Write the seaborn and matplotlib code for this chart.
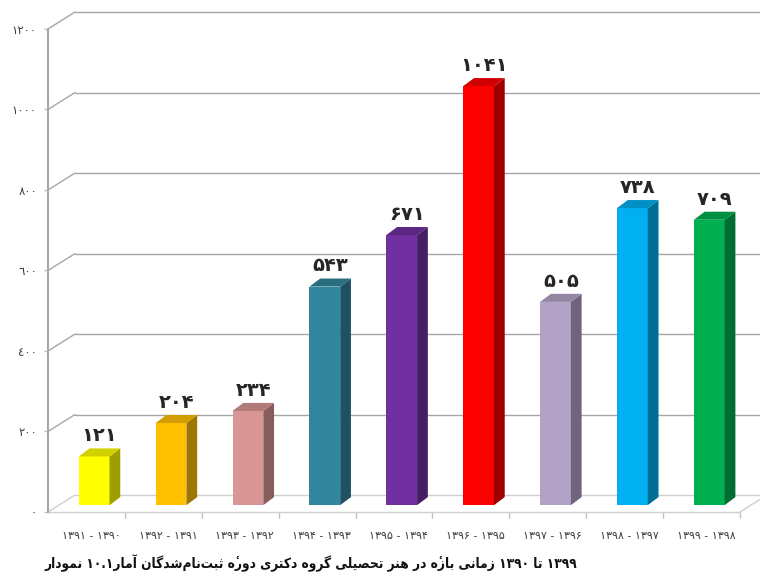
import matplotlib
matplotlib.use("Agg")
import matplotlib.pyplot as plt
from matplotlib.patches import Polygon
from matplotlib.colors import to_rgb
import seaborn as sns

sns.set_theme(style="white")
plt.rcParams['font.family'] = ['DejaVu Sans']

# data
CATEGORIES = ["۱۳۹۱ - ۱۳۹۰", "۱۳۹۲ - ۱۳۹۱", "۱۳۹۳ - ۱۳۹۲", "۱۳۹۴ - ۱۳۹۳", "۱۳۹۵ - ۱۳۹۴",
              "۱۳۹۶ - ۱۳۹۵", "۱۳۹۷ - ۱۳۹۶", "۱۳۹۸ - ۱۳۹۷", "۱۳۹۹ - ۱۳۹۸"]
VALUES = [121, 204, 234, 543, 671, 1041, 505, 738, 709]
COLORS = ["#FFFF00", "#FFC000", "#D99694", "#31859C", "#7030A0",
          "#FF0000", "#B3A2C7", "#00B0F0", "#00B050"]
Y_TICKS = [0, 200, 400, 600, 800, 1000, 1200]
TITLE = "نمودار ۱۰.۱آمار ثبت‌نام‌شدگان دورهٔ دکتری گروه تحصیلی هنر در بازهٔ زمانی ۱۳۹۰ تا ۱۳۹۹"

# 3d look
BX, BY = 0.10, 17      # bar shift to mid depth
DX, DY = 0.14, 20      # bar depth
DXW, DYW = 0.35, 42    # wall depth
XMAX = 8.76
GRID = "#a6a6a6"


def fa(n):
    return str(n).translate(str.maketrans("0123456789", "۰۱۲۳۴۵۶۷۸۹"))


def ar(n):
    return str(n).translate(str.maketrans("0123456789", "٠١٢٣٤٥٦٧٨٩"))


# minimal arabic shaping: (isolated, final[, initial, medial])
FORMS = {
    'ا': ('\ufe8d', '\ufe8e'), 'آ': ('\ufe81', '\ufe82'), 'د': ('\ufea9', '\ufeaa'),
    'ر': ('\ufead', '\ufeae'), 'ز': ('\ufeaf', '\ufeb0'), 'و': ('\ufeed', '\ufeee'),
    'ب': ('\ufe8f', '\ufe90', '\ufe91', '\ufe92'), 'ت': ('\ufe95', '\ufe96', '\ufe97', '\ufe98'),
    'ث': ('\ufe99', '\ufe9a', '\ufe9b', '\ufe9c'), 'ح': ('\ufea1', '\ufea2', '\ufea3', '\ufea4'),
    'ش': ('\ufeb5', '\ufeb6', '\ufeb7', '\ufeb8'), 'ص': ('\ufeb9', '\ufeba', '\ufebb', '\ufebc'),
    'ل': ('\ufedd', '\ufede', '\ufedf', '\ufee0'), 'م': ('\ufee1', '\ufee2', '\ufee3', '\ufee4'),
    'ن': ('\ufee5', '\ufee6', '\ufee7', '\ufee8'), 'ه': ('\ufee9', '\ufeea', '\ufeeb', '\ufeec'),
    'ک': ('\ufb8e', '\ufb8f', '\ufb90', '\ufb91'), 'گ': ('\ufb92', '\ufb93', '\ufb94', '\ufb95'),
    'ی': ('\ufbfc', '\ufbfd', '\ufbfe', '\ufbff'),
}
MARK = '\u0654'  # hamza above


def shape_word(word):
    if not any(c in FORMS for c in word):
        return word
    out = []
    for i, c in enumerate(word):
        if c == MARK and out:
            out[-1] = out[-1] + MARK  # keep mark right after its base
            continue
        if c not in FORMS:
            if c != '\u200c':
                out.append(c)
            continue
        prev = word[i - 1] if i > 0 else None
        nxt = word[i + 1] if i + 1 < len(word) else None
        jp = prev in FORMS and len(FORMS[prev]) == 4
        jn = nxt in FORMS and len(FORMS[c]) == 4
        f = FORMS[c]
        if jp and jn:
            out.append(f[3])
        elif jp:
            out.append(f[1])
        elif jn:
            out.append(f[2])
        else:
            out.append(f[0])
    # digits keep their order, letters are reversed
    head = ''.join(ch for ch in word if ch.isdigit() or ch == '.')
    letters = [ch for ch in out if not (ch.isdigit() or ch == '.')]
    return head + ''.join(reversed(letters))


def shade(c, k):
    r, g, b = to_rgb(c)
    return (r * k, g * k, b * k)


fig = plt.figure(figsize=(7.6, 5.79), dpi=100)
ax = fig.add_axes([48 / 760, 67 / 579, 712 / 760, 512 / 579])

# walls and gridlines
for v in Y_TICKS:
    col = "#d0d0d0" if v == 0 else GRID
    ax.plot([-0.5, -0.5 + DXW], [v, v + DYW], color=col, lw=1, zorder=1)
    ax.plot([-0.5 + DXW, XMAX], [v + DYW, v + DYW], color=col, lw=1, zorder=1)
ax.plot([-0.5, 8.5], [0, 0], color="#d0d0d0", lw=1, zorder=1, clip_on=False)
ax.plot([8.5, 8.5 + DXW], [0, DYW], color="#d0d0d0", lw=1, zorder=1)
ax.plot([-0.5, -0.5], [0, 1200], color=GRID, lw=1.5, zorder=1, clip_on=False)

sns.barplot(x=CATEGORIES, y=VALUES, hue=CATEGORIES, palette=COLORS, order=CATEGORIES,
            hue_order=CATEGORIES, width=0.4, saturation=1, legend=False, ax=ax, zorder=3)

bars = sorted(ax.patches, key=lambda p: p.get_x())
for p, v, c in zip(bars, VALUES, COLORS):
    p.set_x(p.get_x() + BX)
    p.set_y(BY)
    p.set_edgecolor("none")
    x0 = p.get_x()
    x1 = x0 + p.get_width()
    top = BY + v
    ax.add_patch(Polygon([(x1, BY), (x1 + DX, BY + DY), (x1 + DX, top + DY), (x1, top)],
                         closed=True, facecolor=shade(c, 0.62), edgecolor="none", zorder=3))
    ax.add_patch(Polygon([(x0, top), (x0 + DX, top + DY), (x1 + DX, top + DY), (x1, top)],
                         closed=True, facecolor=shade(c, 0.82), edgecolor="none", zorder=3))
    ax.text((x0 + x1 + DX) / 2, top + DY + 8, fa(v), ha="center", va="bottom",
            fontsize=14, fontweight="bold", color="#262626", zorder=4)

ax.set_xlim(-0.5, XMAX)
ax.set_ylim(0, 1272)
ax.set_xticks([i + 0.06 for i in range(len(CATEGORIES))])
ax.set_xticklabels(CATEGORIES)
ax.set_xticks([i + 0.5 for i in range(len(CATEGORIES))], minor=True)
ax.tick_params(axis="x", which="major", length=0, pad=14, labelsize=8, labelcolor="#404040")
ax.tick_params(axis="x", which="minor", length=4, width=1, color="#c0c0c0", bottom=True)
ax.set_yticks(Y_TICKS)
ax.set_yticklabels([ar(v) for v in Y_TICKS])
ax.tick_params(axis="y", length=3, width=1, color="#c0c0c0", pad=5, labelsize=8.5,
               labelcolor="#404040", left=True)
ax.set_xlabel("")
ax.set_ylabel("")
for s in ax.spines.values():
    s.set_visible(False)

title_vis = " ".join(shape_word(w) for w in TITLE.split(" "))
fig.text(45 / 760, 1 - 563 / 579, title_vis, ha="left", va="center",
         fontsize=9.8, fontweight="bold", fontstretch="condensed", color="#111111")

fig.savefig("out.png", dpi=100)
